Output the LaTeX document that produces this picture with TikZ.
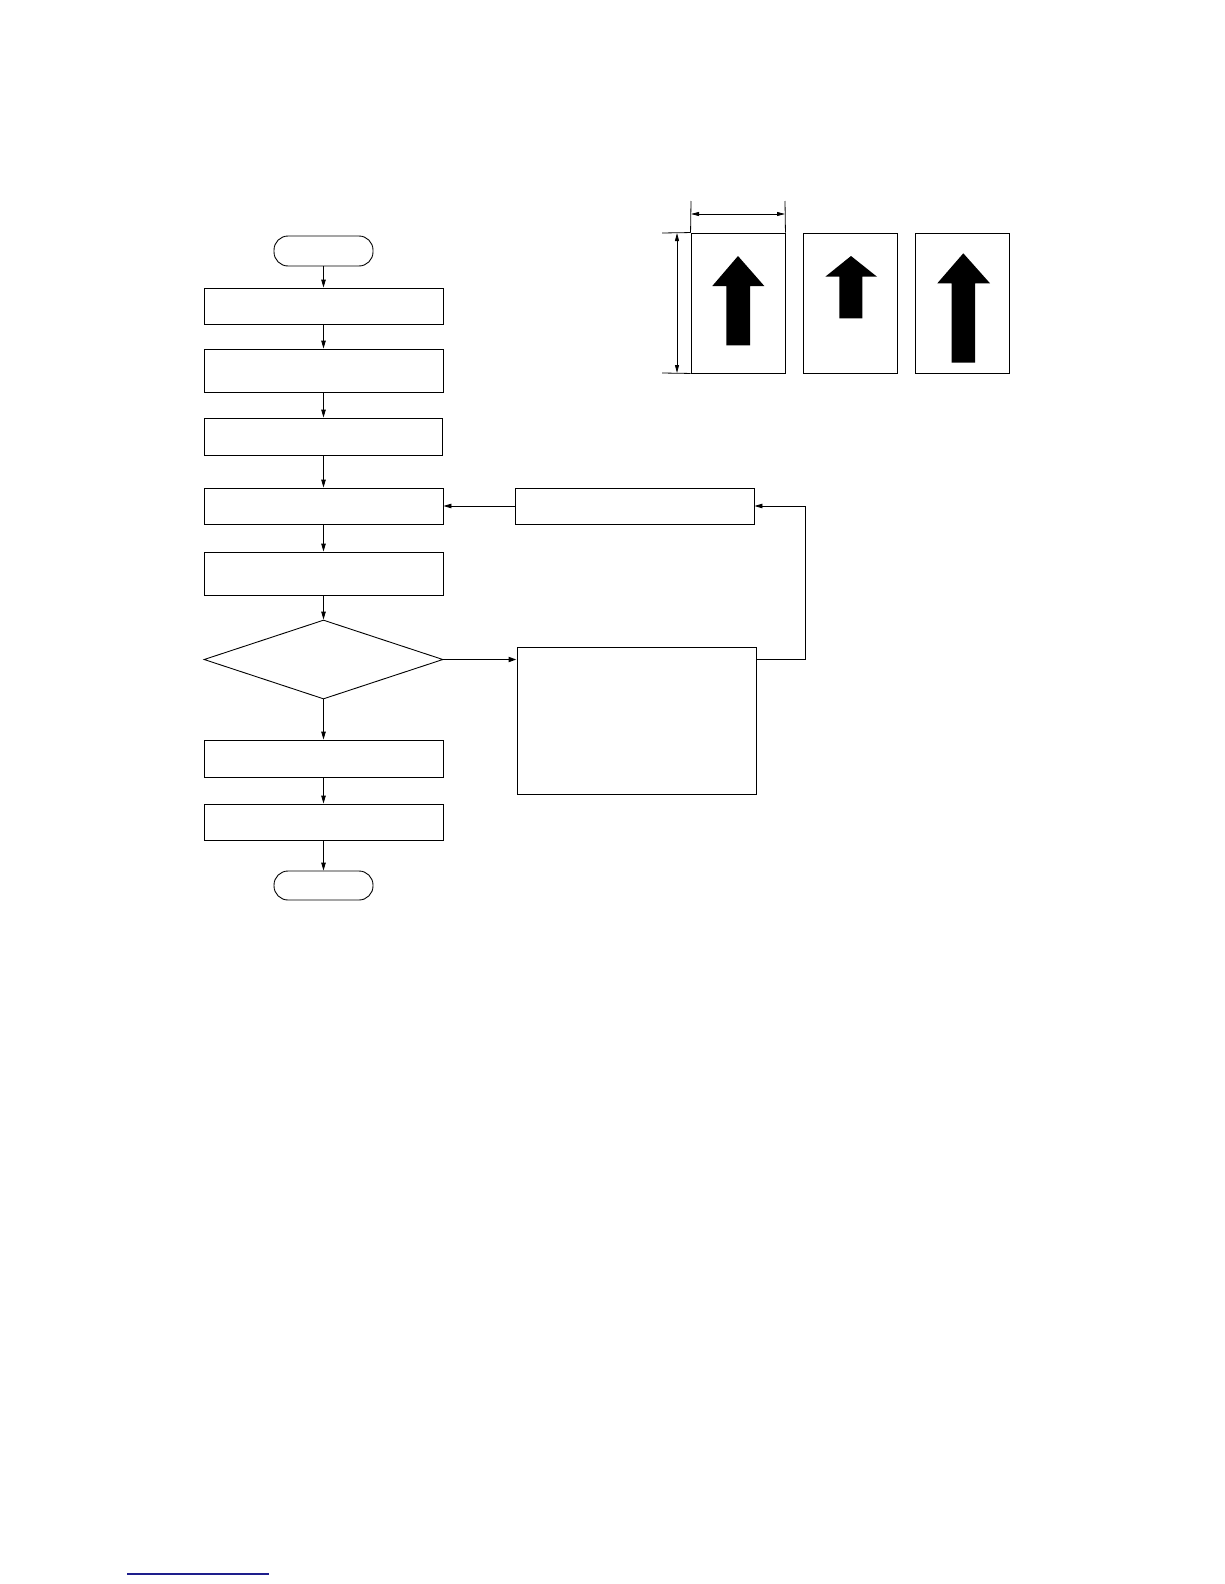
\documentclass[tikz,border=0pt]{standalone}
\usetikzlibrary{shapes.geometric,arrows.meta}
\definecolor{linkblue}{RGB}{30,30,140}
\begin{document}
\begin{tikzpicture}[x=1pt,y=-1pt,
  line width=0.9pt,
  box/.style={draw,rectangle,inner sep=0pt,minimum width=239pt},
  term/.style={draw,rectangle,rounded corners=14pt,inner sep=0pt,minimum width=99pt,minimum height=30pt},
  dia/.style={draw,diamond,inner sep=0pt,minimum width=239pt,minimum height=79pt},
  page/.style={draw,rectangle,inner sep=0pt,minimum width=94pt,minimum height=140pt},
  flow/.style={-{Triangle[length=8pt,width=4.5pt]}},
  thickflow/.style={line width=1.8pt,-{Triangle[length=8pt,width=5pt]}},
  dim/.style={line width=0.8pt,{Triangle[length=8pt,width=4pt]}-{Triangle[length=8pt,width=4pt]}},
  ext/.style={line width=0.8pt},
  bigarrow/.style={fill=black,draw=none}]
\useasboundingbox (0,0) rectangle (1224,1584);
\fill[white] (0,0) rectangle (1224,1584);

% flowchart nodes
\node[term] (start) at (323.5,251) {};
\node[box,minimum height=36pt] (b1) at (323.5,306) {};
\node[box,minimum height=43pt] (b2) at (323.5,370.5) {};
\node[box,minimum width=238pt,minimum height=37pt] (b3) at (323.5,436.5) {};
\node[box,minimum height=36pt] (b4) at (323.5,506) {};
\node[box,minimum height=43pt] (b5) at (323.5,573.5) {};
\node[dia] (d) at (323.5,659.5) {};
\node[box,minimum height=37pt] (b6) at (323.5,758.5) {};
\node[box,minimum height=36pt] (b7) at (323.5,822) {};
\node[term,minimum height=29pt] (end) at (323.5,885.5) {};
\node[box,minimum height=36pt] (A) at (634.5,506) {};
\node[box,minimum height=147pt] (B) at (636.5,720.5) {};

% connectors
\draw[flow] (start.south) -- (b1.north);
\draw[flow] (b1.south) -- (b2.north);
\draw[flow] (b2.south) -- (b3.north);
\draw[flow] (b3.south) -- (b4.north);
\draw[flow] (b4.south) -- (b5.north);
\draw[flow] (b5.south) -- (d.north);
\draw[flow] (d.south) -- (b6.north);
\draw[flow] (b6.south) -- (b7.north);
\draw[flow] (b7.south) -- (end.north);
\draw[flow] (A.west) -- (b4.east);
\draw[thickflow] (d.east) -- (d.east -| B.west);
\coordinate (loopc) at (805,659.5);
\draw[flow] (d.east -| B.east) -- (loopc) |- (A.east);

% pages
\node[page] (p1) at (738,303) {};
\node[page] (p2) at (850.5,303) {};
\node[page] (p3) at (962.5,303) {};

% arrows on pages
\path[bigarrow] (738,256) -- (764.3,286) -- (750,286) -- (750,345.3) -- (726.3,345.3) -- (726.3,286) -- (712.3,286) -- cycle;
\path[bigarrow] (851,256) -- (877,276.7) -- (862.3,276.7) -- (862.3,318.3) -- (839.3,318.3) -- (839.3,276.7) -- (825.3,276.7) -- cycle;
\path[bigarrow] (963.3,253.3) -- (990,283.3) -- (975,283.3) -- (975,362.7) -- (951.7,362.7) -- (951.7,283.3) -- (937.3,283.3) -- cycle;

% dimension lines
\coordinate (tl) at (691,201);
\coordinate (tr) at (785,201);
\coordinate (lt) at (662,233);
\coordinate (lb) at (662,373);
\draw[ext] (p1.north west) -- (tl);
\draw[ext] (p1.north east) -- (tr);
\draw[ext] (p1.north west) -- (lt);
\draw[ext] (p1.south west) -- (lb);
\coordinate (ha) at (691,214);
\coordinate (hb) at (785,214);
\coordinate (va) at (677,233);
\coordinate (vb) at (677,373);
\draw[dim] (ha) -- (hb);
\draw[dim] (va) -- (vb);

% bottom blue line
\coordinate (bl1) at (127,1574);
\coordinate (bl2) at (269,1574);
\draw[linkblue,line width=1.3pt] (bl1) -- (bl2);
\end{tikzpicture}
\end{document}
